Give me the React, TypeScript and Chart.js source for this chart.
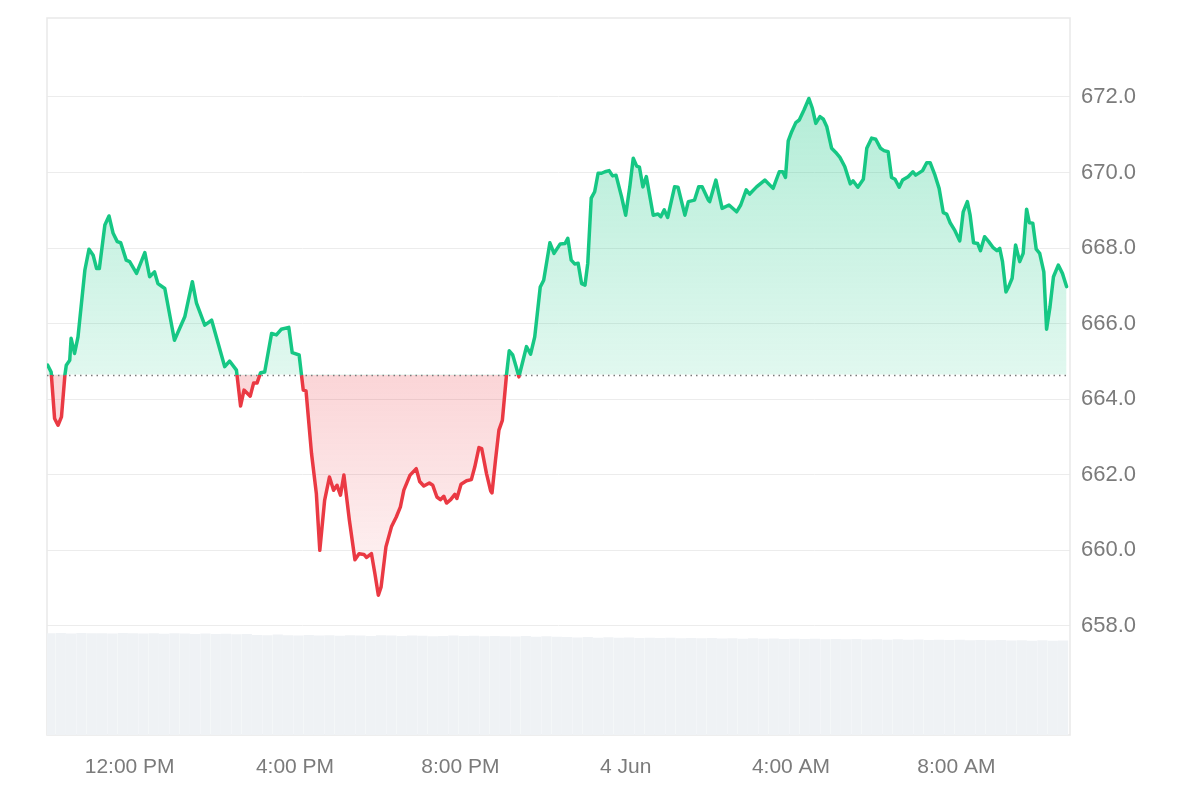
import React, { useEffect, useRef } from "react";
import { Chart, registerables } from "chart.js";

Chart.register(...registerables);

// Opening price (dotted reference line)
const BASE_PRICE = 664.65;

// Minutes since 3 Jun 00:00
const PRICE_TIMES = [
  601, 606, 611, 616, 621, 626, 628, 633, 635, 640, 645, 655, 661, 667, 672, 676, 684, 690, 696, 702,
  707, 715, 720, 730, 742, 749, 756, 761, 771, 785, 800, 811, 817, 829, 839, 858, 865, 875, 881, 886,
  895, 900, 905, 910, 916, 926, 933, 940, 951, 956, 966, 972, 976, 984, 991, 996, 1003, 1010, 1016, 1021,
  1026, 1031, 1039, 1047, 1053, 1060, 1064, 1071, 1076, 1081, 1085, 1092, 1100, 1107, 1113, 1118, 1127, 1136, 1141, 1147,
  1155, 1160, 1166, 1171, 1176, 1180, 1186, 1192, 1195, 1201, 1209, 1216, 1221, 1227, 1231, 1238, 1244, 1246, 1251, 1256,
  1261, 1267, 1271, 1276, 1281, 1285, 1290, 1296, 1302, 1308, 1316, 1321, 1330, 1336, 1345, 1352, 1356, 1361, 1366, 1371,
  1376, 1381, 1385, 1390, 1395, 1400, 1405, 1410, 1416, 1421, 1426, 1434, 1440, 1446, 1451, 1456, 1460, 1465, 1470, 1480,
  1487, 1491, 1496, 1501, 1511, 1516, 1526, 1531, 1540, 1546, 1551, 1560, 1562, 1571, 1580, 1590, 1601, 1607, 1615, 1620,
  1630, 1642, 1654, 1663, 1668, 1672, 1676, 1681, 1687, 1692, 1699, 1706, 1711, 1716, 1722, 1727, 1732, 1739, 1745, 1751,
  1758, 1766, 1770, 1777, 1785, 1790, 1797, 1803, 1810, 1815, 1821, 1826, 1831, 1837, 1842, 1850, 1857, 1861, 1871, 1877,
  1882, 1889, 1895, 1901, 1906, 1911, 1918, 1925, 1930, 1936, 1940, 1945, 1951, 1955, 1961, 1967, 1973, 1979, 1983, 1987,
  1992, 1996, 2001, 2006, 2012, 2017, 2022, 2026, 2031, 2036, 2041, 2047, 2051, 2056, 2061, 2068, 2074, 2080,
];

const PRICES = [
  664.90, 664.72, 663.49, 663.31, 663.53, 664.64, 664.90, 665.03, 665.61, 665.21, 665.65, 667.42, 667.97, 667.81, 667.46, 667.46, 668.61, 668.85, 668.39, 668.17,
  668.14, 667.68, 667.64, 667.33, 667.88, 667.24, 667.37, 667.06, 666.93, 665.56, 666.18, 667.11, 666.54, 665.96, 666.09, 664.86, 665.01, 664.77, 663.82, 664.24,
  664.08, 664.43, 664.43, 664.70, 664.72, 665.74, 665.70, 665.85, 665.90, 665.23, 665.17, 664.24, 664.22, 662.56, 661.50, 660.00, 661.32, 661.94, 661.59, 661.72,
  661.46, 661.99, 660.79, 659.75, 659.91, 659.89, 659.81, 659.91, 659.38, 658.81, 659.03, 660.09, 660.62, 660.88, 661.15, 661.59, 661.99, 662.16, 661.82, 661.70,
  661.78, 661.72, 661.41, 661.34, 661.43, 661.25, 661.34, 661.48, 661.37, 661.75, 661.84, 661.87, 662.21, 662.72, 662.69, 662.03, 661.57, 661.52, 662.38, 663.18,
  663.44, 664.64, 665.28, 665.17, 664.86, 664.59, 664.95, 665.39, 665.19, 665.65, 666.97, 667.15, 668.14, 667.86, 668.11, 668.12, 668.26, 667.68, 667.58, 667.60,
  667.06, 667.02, 667.60, 669.32, 669.49, 669.98, 669.98, 670.02, 670.05, 669.91, 669.93, 669.36, 668.87, 669.62, 670.38, 670.17, 670.14, 669.62, 669.89, 668.87,
  668.90, 668.83, 669.01, 668.81, 669.62, 669.61, 668.87, 669.23, 669.27, 669.62, 669.62, 669.27, 669.23, 669.80, 669.05, 669.14, 668.96, 669.14, 669.54, 669.43,
  669.62, 669.80, 669.58, 670.02, 670.02, 669.87, 670.84, 671.08, 671.32, 671.39, 671.66, 671.96, 671.70, 671.30, 671.48, 671.41, 671.21, 670.64, 670.53, 670.40,
  670.16, 669.70, 669.78, 669.61, 669.82, 670.64, 670.91, 670.88, 670.64, 670.58, 670.55, 669.87, 669.82, 669.61, 669.80, 669.89, 670.02, 669.93, 670.05, 670.26,
  670.26, 669.93, 669.58, 668.94, 668.90, 668.67, 668.46, 668.19, 668.96, 669.23, 668.87, 668.14, 668.12, 667.93, 668.30, 668.17, 668.02, 667.93, 667.99, 667.64,
  666.84, 666.98, 667.20, 668.08, 667.64, 667.86, 669.03, 668.67, 668.66, 667.97, 667.86, 667.37, 665.85, 666.45, 667.24, 667.55, 667.33, 666.98,
];

// Volume bars, one every 15 minutes
const VOLUME_START = 605;
const VOLUME_STEP = 15;
const VOLUMES = [
  7.10, 7.12, 7.08, 7.11, 7.09, 7.10, 7.07, 7.12, 7.10, 7.08,
  7.09, 7.06, 7.10, 7.08, 7.05, 7.07, 7.04, 7.06, 7.03, 7.05,
  6.98, 6.95, 7.00, 6.96, 6.94, 6.97, 6.93, 6.95, 6.92, 6.96,
  6.94, 6.91, 6.95, 6.93, 6.90, 6.94, 6.92, 6.89, 6.91, 6.93,
  6.90, 6.92, 6.88, 6.91, 6.89, 6.87, 6.90, 6.86, 6.88, 6.85,
  6.84, 6.80, 6.83, 6.79, 6.82, 6.78, 6.80, 6.77, 6.79, 6.76,
  6.78, 6.75, 6.77, 6.74, 6.76, 6.73, 6.75, 6.72, 6.74, 6.71,
  6.73, 6.70, 6.72, 6.69, 6.71, 6.68, 6.70, 6.67, 6.69, 6.66,
  6.68, 6.65, 6.67, 6.64, 6.66, 6.63, 6.65, 6.62, 6.64, 6.61,
  6.63, 6.60, 6.62, 6.59, 6.61, 6.58, 6.60, 6.57, 6.59,
];

const X_TICK_MINUTES = [720, 960, 1200, 1440, 1680, 1920];
const X_TICK_LABELS = ["12:00 PM", "4:00 PM", "8:00 PM", "4 Jun", "4:00 AM", "8:00 AM"];
const Y_TICKS = [658, 660, 662, 664, 666, 668, 670, 672];

const X_MIN = 600;
const X_MAX = 2085;
const Y_MIN = 655.11;
const Y_MAX = 674.09;

const GREEN = "#16c784";
const RED = "#ea3943";
const TICK_COLOR = "#7b7b7b";
const FONT = "'Liberation Sans', Arial, Helvetica, sans-serif";

function baseFraction(chart: any) {
  const a = chart.chartArea;
  const yb = chart.scales.y.getPixelForValue(BASE_PRICE);
  return Math.min(1, Math.max(0, (yb - a.top) / (a.bottom - a.top)));
}

function strokeGradient(context: any) {
  const chart = context.chart;
  const a = chart.chartArea;
  if (!a) return GREEN;
  const f = baseFraction(chart);
  const g = chart.ctx.createLinearGradient(0, a.top, 0, a.bottom);
  g.addColorStop(0, GREEN);
  g.addColorStop(f, GREEN);
  g.addColorStop(f, RED);
  g.addColorStop(1, RED);
  return g;
}

function fillGradient(context: any) {
  const chart = context.chart;
  const a = chart.chartArea;
  if (!a) return "rgba(22,199,132,0.15)";
  const f = baseFraction(chart);
  const yLow = chart.scales.y.getPixelForValue(658.6);
  const fl = Math.min(1, Math.max(f, (yLow - a.top) / (a.bottom - a.top)));
  const g = chart.ctx.createLinearGradient(0, a.top, 0, a.bottom);
  g.addColorStop(0, "rgba(22,199,132,0.38)");
  g.addColorStop(f, "rgba(22,199,132,0.13)");
  g.addColorStop(f, "rgba(234,57,67,0.21)");
  g.addColorStop(fl, "rgba(234,57,67,0.05)");
  g.addColorStop(1, "rgba(234,57,67,0.05)");
  return g;
}

const framePlugin = {
  id: "frame",
  beforeDatasetsDraw(chart: any) {
    const { ctx, chartArea: a } = chart;
    ctx.save();
    ctx.strokeStyle = "#e9e9e9";
    ctx.lineWidth = 1.5;
    ctx.strokeRect(a.left, a.top, a.right - a.left, a.bottom - a.top);
    ctx.restore();
  },
};

const baselinePlugin = {
  id: "baseline",
  afterDatasetsDraw(chart: any) {
    const { ctx, chartArea: a } = chart;
    const y = Math.round(chart.scales.y.getPixelForValue(BASE_PRICE)) + 0.5;
    ctx.save();
    ctx.strokeStyle = "#7a7a7a";
    ctx.lineWidth = 1.5;
    ctx.setLineDash([1.5, 4]);
    ctx.beginPath();
    ctx.moveTo(a.left, y);
    ctx.lineTo(a.right, y);
    ctx.stroke();
    ctx.restore();
  },
};

export default function App() {
  const canvasRef = useRef<HTMLCanvasElement | null>(null);

  useEffect(() => {
    if (!canvasRef.current) return;
    const priceData = PRICE_TIMES.map((t, i) => ({ x: t, y: PRICES[i] }));
    const volumeData = VOLUMES.map((v, i) => ({ x: VOLUME_START + i * VOLUME_STEP, y: v }));

    const chart = new Chart(canvasRef.current, {
      type: "line",
      data: {
        datasets: [
          {
            type: "line",
            label: "Price",
            data: priceData,
            yAxisID: "y",
            xAxisID: "x",
            borderColor: strokeGradient,
            backgroundColor: fillGradient,
            borderWidth: 3.5,
            borderJoinStyle: "round",
            borderCapStyle: "round",
            pointRadius: 0,
            tension: 0,
            fill: { value: BASE_PRICE },
            order: 1,
          } as any,
          {
            type: "bar",
            label: "Volume",
            data: volumeData,
            yAxisID: "vol",
            xAxisID: "x",
            backgroundColor: "rgb(239,242,245)",
            borderWidth: 0,
            barPercentage: 0.99,
            categoryPercentage: 1,
            order: 2,
          } as any,
        ],
      },
      options: {
        animation: false,
        responsive: true,
        maintainAspectRatio: false,
        layout: { padding: { left: 47, top: 18, right: 0, bottom: 0 } },
        plugins: {
          legend: { display: false },
          tooltip: { enabled: false },
        },
        scales: {
          x: {
            type: "linear",
            min: X_MIN,
            max: X_MAX,
            offset: false,
            grid: { display: false, drawTicks: false, offset: false },
            border: { display: false },
            afterBuildTicks: (scale: any) => {
              scale.ticks = X_TICK_MINUTES.map((v) => ({ value: v }));
            },
            afterFit: (scale: any) => {
              scale.height = 65;
              scale.paddingLeft = 0;
              scale.paddingRight = 0;
            },
            ticks: {
              autoSkip: false,
              maxRotation: 0,
              padding: 20,
              color: TICK_COLOR,
              font: { family: FONT, size: 21 },
              callback: (v: any) => {
                const i = X_TICK_MINUTES.indexOf(Number(v));
                return i >= 0 ? X_TICK_LABELS[i] : "";
              },
            },
          },
          y: {
            type: "linear",
            position: "right",
            min: Y_MIN,
            max: Y_MAX,
            grid: { color: "#ececec", lineWidth: 1, drawTicks: false },
            border: { display: false },
            afterBuildTicks: (scale: any) => {
              scale.ticks = Y_TICKS.map((v) => ({ value: v }));
            },
            afterFit: (scale: any) => {
              scale.width = 130;
              scale.paddingTop = 0;
              scale.paddingBottom = 0;
            },
            ticks: {
              padding: 11,
              color: TICK_COLOR,
              font: { family: FONT, size: 22 },
              callback: (v: any) => Number(v).toFixed(1),
            },
          },
          vol: {
            type: "linear",
            display: false,
            position: "left",
            min: 0,
            max: 50,
          },
        },
      } as any,
      plugins: [framePlugin, baselinePlugin],
    });

    return () => chart.destroy();
  }, []);

  return (
    <div
      style={{
        position: "fixed",
        left: 0,
        top: 0,
        width: 1200,
        height: 800,
        background: "#ffffff",
      }}
    >
      <canvas ref={canvasRef} />
    </div>
  );
}
